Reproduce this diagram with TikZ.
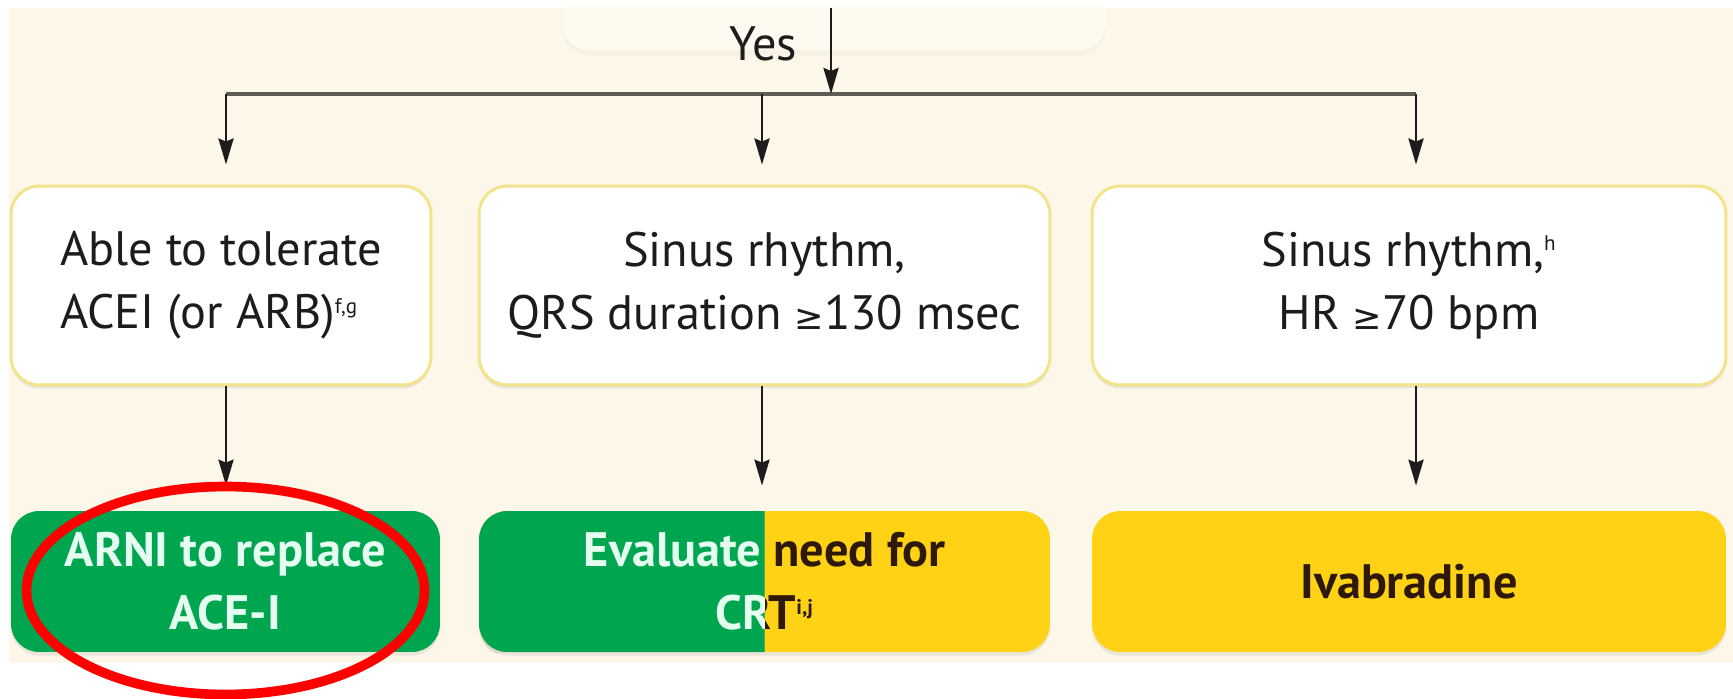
\documentclass[tikz,border=0pt]{standalone}
\usepackage{fontspec}
\setmainfont{PT Sans}
\newfontfamily\symfont{DejaVu Sans}
\usetikzlibrary{arrows.meta,shadows}

\definecolor{cream}{RGB}{252,247,232}
\definecolor{boxedge}{RGB}{243,228,140}
\definecolor{armgreen}{RGB}{0,165,80}
\definecolor{ivayellow}{RGB}{255,210,22}
\definecolor{inkdark}{RGB}{30,27,28}
\definecolor{mint}{RGB}{228,255,240}
\definecolor{brownink}{RGB}{45,25,5}
\definecolor{busgray}{RGB}{95,92,85}

\newcommand{\geqmark}{{\symfont\fontsize{20}{36}\selectfont ≥}}
\newcommand{\refmark}[1]{\textsuperscript{\fontsize{12}{12}\selectfont #1}}

\begin{document}
\begin{tikzpicture}[x=0.02cm, y=-0.02cm,
    font=\fontsize{27.5}{36}\selectfont,
    softshadow/.style={drop shadow={shadow xshift=0pt, shadow yshift=-2pt,
        opacity=.22, fill=black!35}},
    prevbox/.style={fill=white!35!cream, minimum width=10.84cm,
        minimum height=1.6cm, rounded corners=14pt,
        drop shadow={shadow xshift=0pt, shadow yshift=-3pt, opacity=.04}},
    topbox/.style={draw=boxedge, line width=1.7pt, fill=white,
        rounded corners=16pt, minimum height=3.98cm, text=inkdark,
        align=center, softshadow},
    bottombox/.style={rounded corners=16pt, minimum height=2.82cm,
        font=\fontsize{27.5}{36}\selectfont\bfseries, align=center, softshadow},
    flow/.style={-{Stealth[length=0.52cm, width=0.3cm, inset=0.06cm]},
        line width=1.6pt, inkdark},
    bus/.style={line width=2.2pt, busgray}]

  \useasboundingbox (0,0) rectangle (1733,699);
  \fill[cream] (9,8) rectangle (1733,663);

  % box above, cut off by the crop
  \begin{scope}
    \clip (9,8) rectangle (1733,663);
    \node[prevbox] (prev) at (834,10) {};
  \end{scope}

  % conditions
  \node[topbox, minimum width=8.4cm, align=left] (tolerate) at (221,285.5)
    {Able to tolerate\\ACEI (or ARB)\refmark{f,g}};
  \node[topbox, minimum width=11.42cm] (qrs) at (764.5,285.5)
    {Sinus rhythm,\\QRS duration \geqmark130 msec};
  \node[topbox, minimum width=12.68cm] (heartrate) at (1409,285.5)
    {Sinus rhythm,\refmark{h}\\HR \geqmark70 bpm};

  % treatments
  \node[bottombox, minimum width=8.58cm, fill=armgreen, text=mint] (arni)
    at (225.5,581.5) {ARNI to replace\\ACE-I};
  \node[bottombox, minimum width=11.42cm, fill=ivayellow, text=brownink] (crt)
    at (764.5,581.5) {Evaluate need for\\CRT\refmark{i,j}};
  \begin{scope}
    \clip (crt.south west) rectangle (crt.north);
    \node[bottombox, minimum width=11.42cm, fill=armgreen, text=mint,
      drop shadow={opacity=0}] (crtgreen) at (crt.center)
      {Evaluate need for\\CRT\refmark{i,j}};
  \end{scope}
  \node[bottombox, minimum width=12.68cm, fill=ivayellow, text=brownink] (ivab)
    at (1409,581.5) {Ivabradine};

  % connectors
  \coordinate (yesin) at (831,8);
  \coordinate (fork) at (831,94);
  \coordinate (d1) at (226,94);
  \coordinate (d2) at (762,94);
  \coordinate (d3) at (1416,94);

  \node[text=inkdark] (yes) at (763,44) {Yes};
  \draw[bus] (d1) -- (d3);
  \draw[flow] (yesin) -- (fork);
  \foreach \d/\t/\b in {d1/tolerate/arni, d2/qrs/crt, d3/heartrate/ivab} {
    \draw[flow, shorten >=0.4cm] (\d) -- (\d |- \t.north);
    \draw[flow, shorten >=0.5cm] (\d |- \t.south) -- (\d |- \b.north);
  }

  % highlight
  \draw[red, line width=5.5pt] ([yshift=-0.18cm]arni.center)
    ellipse [x radius=3.98cm, y radius=2.08cm];
\end{tikzpicture}
\end{document}
